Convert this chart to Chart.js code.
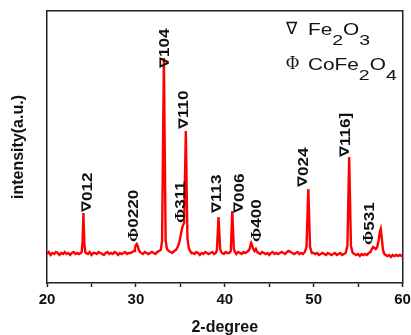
<!DOCTYPE html>
<html>
<head>
<meta charset="utf-8">
<script src="https://cdn.jsdelivr.net/npm/chart.js@4"></script>
<style>
  html, body { margin: 0; padding: 0; background: #fff; }
  #wrap { width: 411px; height: 335px; position: relative; }
</style>
</head>
<body>
<div id="wrap"><canvas id="xrd"></canvas></div>
<script>
"use strict";

// XRD pattern (2-theta in degrees, intensity in a.u.)
const twoTheta = [
  20.0, 20.2, 20.4, 20.6, 20.8, 21.0, 21.2, 21.4, 21.6, 21.8,
  22.0, 22.2, 22.4, 22.6, 22.8, 23.0, 23.2, 23.4, 23.6, 23.8,
  23.9, 24.0, 24.1, 24.2, 24.3,
  24.4, 24.6, 24.8, 25.0, 25.2, 25.4, 25.6, 25.8, 26.0, 26.2,
  26.4, 26.6, 26.8, 27.0, 27.2, 27.4, 27.6, 27.8, 28.0, 28.2,
  28.4, 28.6, 28.8, 29.0, 29.2, 29.4, 29.6,
  29.8, 29.9, 30.0, 30.1, 30.2, 30.3, 30.45,
  30.6, 30.8, 31.0, 31.2, 31.4, 31.6, 31.8, 32.0, 32.2, 32.4, 32.6,
  32.8, 32.95, 33.15, 33.35, 33.5, 33.7,
  33.9, 34.1, 34.3, 34.5, 34.7, 34.9, 35.05, 35.2, 35.32, 35.43,
  35.62, 35.8, 35.95, 36.1, 36.25,
  36.4, 36.6, 36.8, 37.0, 37.2, 37.4, 37.6, 37.8, 38.0, 38.2,
  38.4, 38.6, 38.8, 39.0,
  39.12, 39.3, 39.48, 39.6,
  39.7, 39.9, 40.1, 40.3, 40.5, 40.68,
  40.85, 41.02, 41.15,
  41.3, 41.5, 41.7, 41.9, 42.1, 42.3, 42.5, 42.65,
  42.8, 42.9, 42.97, 43.07, 43.2, 43.35, 43.5, 43.65, 43.8,
  44.0, 44.2, 44.4, 44.6, 44.8, 45.0, 45.2, 45.4, 45.6, 45.8,
  46.0, 46.2, 46.4, 46.6, 46.8, 47.0, 47.2, 47.4, 47.6, 47.8,
  48.0, 48.2, 48.4, 48.6, 48.8, 49.0,
  49.2, 49.4, 49.6, 49.8,
  50.0, 50.2, 50.4, 50.6, 50.8, 51.0, 51.2, 51.4, 51.6, 51.8,
  52.0, 52.2, 52.4, 52.6, 52.8, 53.0, 53.2, 53.4, 53.6,
  53.8, 54.0, 54.2, 54.4,
  54.6, 54.8, 55.0, 55.2, 55.4, 55.6, 55.8, 56.0, 56.2,
  56.4, 56.55, 56.7, 56.85, 57.0, 57.15,
  57.3, 57.45, 57.55, 57.67, 57.8, 57.95,
  58.1, 58.3, 58.5, 58.7, 58.9, 59.1, 59.3, 59.5, 59.7, 59.9, 60.0
];
const intensity = [
  29, 31, 28, 30, 29, 31, 30, 28, 30, 29,
  31, 29, 30, 28, 30, 31, 29, 30, 29, 30,
  31, 41, 70, 40, 31,
  30, 29, 31, 28, 30, 30, 29, 31, 30, 29,
  28, 30, 31, 29, 30, 29, 31, 30, 28, 30,
  29, 30, 31, 29, 30, 30, 31,
  32, 35, 38, 39, 37, 34, 31,
  30, 29, 31, 30, 29, 30, 31, 30, 29, 31, 32,
  33, 42, 225, 42, 34, 32,
  31, 30, 32, 33, 36, 41, 48, 55, 58, 60,
  152, 45, 35, 32, 30,
  30, 29, 31, 30, 28, 30, 29, 31, 30, 29,
  30, 31, 29, 30,
  33, 66, 34, 31,
  30, 29, 31, 30, 30, 32,
  72, 34, 31,
  29, 31, 30, 29, 31, 30, 31, 32,
  34, 38, 40, 38, 34, 32, 34, 31, 30,
  29, 31, 30, 29, 30, 28, 30, 31, 29, 30,
  29, 30, 31, 30, 29, 31, 32, 31, 30, 29,
  30, 31, 29, 30, 29, 31,
  36, 94, 36, 30,
  30, 29, 30, 28, 29, 30, 29, 28, 30, 29,
  28, 29, 30, 28, 29, 30, 28, 29, 30,
  37, 126, 37, 30,
  29, 28, 29, 27, 29, 28, 29, 28, 30,
  31, 34, 36, 35, 34, 36,
  42, 51, 54, 45, 33, 29,
  28, 27, 28, 26, 28, 27, 28, 27, 28, 27, 28
];

// peak annotations: text, and where the (rotated) text starts
const peakLabels = ["∇012", "Φ0220", "∇104", "Φ311", "∇110", "∇113", "∇006", "Φ400", "∇024", "∇116]", "Φ531"];
const labelTheta = [24.6, 29.8, 33.3, 35.1, 35.45, 39.19, 41.72, 43.63, 48.91, 53.63, 56.33];
const labelIntensity = [71, 41, 215, 60, 154, 70, 70, 41, 96, 126, 38];

// legend in the top right corner
const legendSymbols = ["∇", "Φ"];
const legendFormulas = ["Fe2O3", "CoFe2O4"];

const xTicks = [20, 30, 40, 50, 60];

const INK = "#111";
const FRAME = "#222";

function symbolFont(sym, size, weight) {
  if (sym === "Φ") return weight + " " + (size + 1) + 'px "Liberation Serif"';
  return weight + " " + size + 'px "DejaVu Sans"';
}

function drawPeakLabel(ctx, text, px, py) {
  ctx.save();
  ctx.translate(px, py);
  ctx.rotate(-Math.PI / 2);
  ctx.scale(1.22, 1);
  ctx.fillStyle = INK;
  ctx.textAlign = "left";
  ctx.textBaseline = "middle";
  let sym = text[0];
  ctx.font = symbolFont(sym, 13, "bold");
  ctx.fillText(sym, 0, 0);
  let w = ctx.measureText(sym).width;
  ctx.font = 'bold 14px "Liberation Sans"';
  ctx.fillText(text.slice(1), w, 0);
  ctx.restore();
}

function drawFormula(ctx, formula, x, y) {
  // digits are drawn as subscripts
  ctx.save();
  ctx.translate(x, y);
  ctx.scale(1.3, 1);
  let cx = 0;
  for (let ch of formula) {
    let isDigit = ch >= "0" && ch <= "9";
    ctx.font = isDigit ? '15px "Liberation Sans"' : '16px "Liberation Sans"';
    ctx.fillText(ch, cx, isDigit ? 10 : 0);
    cx += ctx.measureText(ch).width;
  }
  ctx.restore();
}

const annotatePlugin = {
  id: "annotate",
  afterDraw(chart) {
    const ctx = chart.ctx;
    const xs = chart.scales.x;
    const ys = chart.scales.y;

    for (let i = 0; i < peakLabels.length; i++) {
      drawPeakLabel(ctx, peakLabels[i], xs.getPixelForValue(labelTheta[i]), ys.getPixelForValue(labelIntensity[i]));
    }

    ctx.save();
    ctx.fillStyle = INK;
    ctx.textAlign = "left";
    ctx.textBaseline = "alphabetic";
    for (let i = 0; i < legendSymbols.length; i++) {
      let y = 35 + i * 35;
      ctx.font = symbolFont(legendSymbols[i], 17, "normal");
      ctx.fillText(legendSymbols[i], 286, y - 1);
      drawFormula(ctx, legendFormulas[i], 308, y);
    }
    ctx.restore();
  }
};

// an empty axis that only draws its line, used for the top and right of the frame
function frameAxis(position, horizontal) {
  return {
    type: "linear",
    position: position,
    display: true,
    min: 0,
    max: 1,
    afterFit: (scale) => {
      if (horizontal) scale.height = 0;
      else scale.width = 0;
    },
    ticks: { display: false },
    grid: { display: false, drawTicks: false },
    border: { display: true, color: FRAME, width: 1.5 },
  };
}

function init() {
  const ctx = document.getElementById("xrd").getContext("2d");
  const points = twoTheta.map((t, i) => ({ x: t, y: intensity[i] }));

  new Chart(ctx, {
    type: "line",
    data: {
      datasets: [
        {
          label: "XRD",
          data: points,
          borderColor: "#ff0000",
          borderWidth: 2.4,
          pointRadius: 0,
          tension: 0,
          fill: false,
        },
      ],
    },
    options: {
      responsive: true,
      maintainAspectRatio: false,
      animation: false,
      layout: { padding: { top: 11, right: 8.5, left: 0, bottom: 0 } },
      plugins: {
        legend: { display: false },
        tooltip: { enabled: false },
      },
      scales: {
        x: {
          type: "linear",
          min: 20,
          max: 60,
          afterBuildTicks: (scale) => {
            scale.ticks = [20, 25, 30, 35, 40, 45, 50, 55, 60].map((v) => ({ value: v }));
          },
          afterFit: (scale) => {
            scale.height = 52;
            scale.paddingLeft = 0;
            scale.paddingRight = 0;
          },
          ticks: {
            autoSkip: false,
            maxRotation: 0,
            padding: 4,
            color: INK,
            font: { family: "Liberation Sans", size: 15, weight: "bold" },
            callback: (v) => (xTicks.includes(v) ? v : ""),
          },
          grid: {
            drawOnChartArea: false,
            drawTicks: true,
            tickLength: 4,
            tickWidth: 1.5,
            color: FRAME,
          },
          border: { display: true, color: FRAME, width: 1.5 },
          title: {
            display: true,
            text: "2-degree",
            color: INK,
            font: { family: "Liberation Sans", size: 16, weight: "bold", lineHeight: 1 },
            padding: { top: 0, bottom: -1 },
          },
        },
        y: {
          min: 0,
          max: 272,
          afterFit: (scale) => {
            scale.width = 47;
          },
          ticks: { display: false },
          grid: { display: false },
          border: { display: true, color: FRAME, width: 1.5 },
          title: {
            display: true,
            text: "intensity(a.u.)",
            color: INK,
            font: { family: "Liberation Sans", size: 16, weight: "bold" },
            padding: { top: 9, bottom: 0 },
          },
        },
        xTop: frameAxis("top", true),
        yRight: frameAxis("right", false),
      },
    },
    plugins: [annotatePlugin],
  });
}

window.addEventListener("DOMContentLoaded", init);
</script>
</body>
</html>
